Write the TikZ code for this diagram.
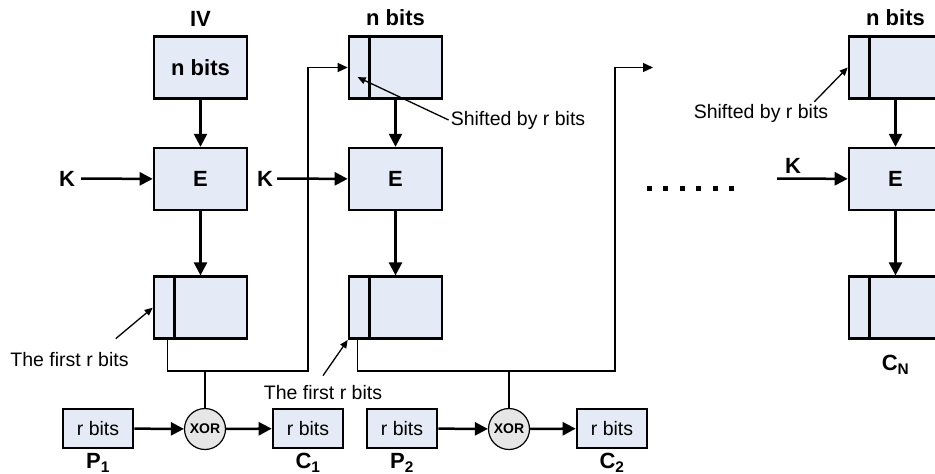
\documentclass[tikz,border=0pt]{standalone}
\usepackage{fontspec}
\setmainfont{Liberation Sans}
\usetikzlibrary{arrows.meta,positioning,calc}
\definecolor{regfill}{RGB}{229,235,246}
\definecolor{xorfill}{RGB}{230,230,230}

\begin{document}
\begin{tikzpicture}[x=1pt, y=-1pt,
  blk/.style={draw, line width=2.6pt, fill=regfill, minimum width=93pt, minimum height=62pt, font=\fontsize{22}{24}\selectfont\bfseries},
  sml/.style={draw, line width=2.6pt, fill=regfill, minimum width=70pt, minimum height=39pt, font=\fontsize{19.5}{22}\selectfont},
  xr/.style={draw, circle, line width=1.2pt, fill=xorfill, minimum size=41pt, inner sep=0pt, font=\fontsize{14}{15}\selectfont\bfseries},
  lbl/.style={font=\fontsize{22}{24}\selectfont\bfseries, inner sep=0pt},
  note/.style={font=\fontsize{19.5}{22}\selectfont, inner sep=2pt},
  thk/.style={line width=2.5pt, -{Triangle[length=13pt,width=13pt]}},
  thn/.style={line width=1.3pt},
  tip/.style={-{Triangle[length=10pt,width=9pt]}}]
  \useasboundingbox (0,0) rectangle (935,474);

  % first stage
  \node[blk] (iv) at (200.5,67.5) {n bits};
  \node[blk, below=47pt of iv] (e1) {E};
  \node[blk, below=64pt of e1] (o1) {};
  \node[lbl, above=9pt of iv] (ivl) {IV};
  \node[lbl, inner sep=6pt] (k1) at (67,178.5) {K};
  \draw[thk] (iv) -- (e1);
  \draw[thk] (e1) -- (o1);
  \draw[thk] (k1) -- (e1);

  % second stage
  \node[blk] (r2) at (395.5,67.5) {};
  \node[blk, below=47pt of r2] (e2) {E};
  \node[blk, below=64pt of e2] (o2) {};
  \node[lbl, above=9pt of r2] (r2l) {n bits};
  \node[lbl, inner sep=4pt] (k2) at (265,178.5) {K};
  \draw[thk] (r2) -- (e2);
  \draw[thk] (e2) -- (o2);
  \draw[thk] (k2) -- (e2);

  % last stage
  \node[blk] (r3) at (895.5,67.5) {};
  \node[blk, below=47pt of r3] (e3) {E};
  \node[blk, below=64pt of e3] (o3) {};
  \node[lbl, above=9pt of r3] (r3l) {n bits};
  \node[lbl, below=15pt of o3] (cn) {C\textsubscript{N}};
  \node[lbl] (k3) at (793,166) {K};
  \coordinate (k3s) at (777,178.5);
  \draw[thk] (r3) -- (e3);
  \draw[thk] (e3) -- (o3);
  \draw[thk] (k3s) -- (e3);

  % r-bit dividers
  \foreach \n in {r2,o1,o2,r3,o3}
    \draw[line width=2.6pt] ($(\n.north west)+(22pt,0pt)$) -- ($(\n.south west)+(22pt,0pt)$);

  % plaintext / ciphertext blocks
  \node[sml] (p1) at (98,428.5) {r bits};
  \node[xr] (x1) at (205,429) {XOR};
  \node[sml] (c1) at (308,428.5) {r bits};
  \node[sml] (p2) at (402,428.5) {r bits};
  \node[xr] (x2) at (509,429) {XOR};
  \node[sml] (c2) at (612,428.5) {r bits};
  \node[lbl, below=4pt of p1] (p1l) {P\textsubscript{1}};
  \node[lbl, below=4pt of c1] (c1l) {C\textsubscript{1}};
  \node[lbl, below=4pt of p2] (p2l) {P\textsubscript{2}};
  \node[lbl, below=4pt of c2] (c2l) {C\textsubscript{2}};
  \draw[thk] (p1) -- (x1);
  \draw[thk] (x1) -- (c1);
  \draw[thk] (p2) -- (x2);
  \draw[thk] (x2) -- (c2);

  % feedback lines
  \coordinate (b1) at (308,371);
  \coordinate (b2) at (615,371);
  \coordinate (fe) at (653,67.5);
  \draw[thn, tip] ($(o1.south west)+(15pt,0pt)$) |- (b1) -- (b1 |- r2.west) -- (r2.west);
  \draw[thn, tip] ($(o2.south west)+(10pt,0pt)$) |- (b2) -- (b2 |- fe) -- (fe);
  \draw[thn] (x1 |- b1) -- (x1.north);
  \draw[thn] (x2 |- b2) -- (x2.north);

  % notes
  \node[note] (s2) at (518,120) {Shifted by r bits};
  \node[note] (s3) at (761,113) {Shifted by r bits};
  \node[note] (f1) at (69.5,360) {The first r bits};
  \node[note] (f2) at (323,393) {The first r bits};
  \draw[thn, -{Triangle[length=8pt,width=7pt]}] (s2.west) -- ($(r2.north west)+(10pt,-42pt)$);
  \draw[thn, -{Triangle[length=8pt,width=7pt]}] ($(s3.north east)+(-16pt,0pt)$) -- (r3.west);
  \draw[thn, -{Triangle[length=8pt,width=7pt]}] ($(f1.north east)+(-15pt,12pt)$) -- (o1.west);
  \draw[thn, -{Triangle[length=8pt,width=7pt]}] ($(f2.north)+(0pt,8pt)$) -- (o2.south west);

  % dots
  \foreach \i in {0,...,5}
    \fill (647+\i*16.4,186) rectangle ++(5,5);
\end{tikzpicture}
\end{document}
